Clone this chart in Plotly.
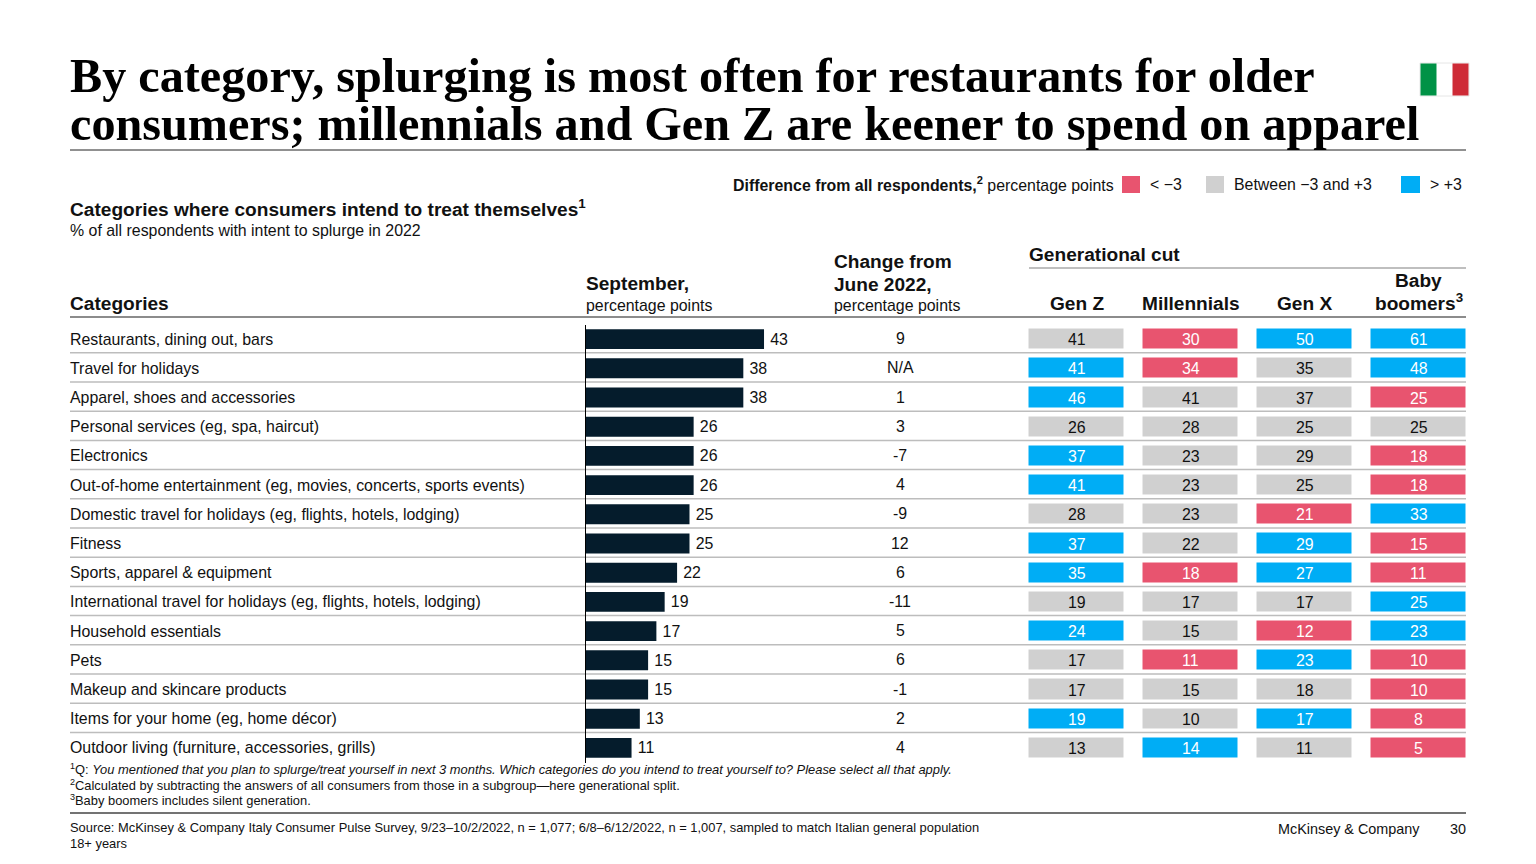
import plotly.graph_objects as go

W, H = 1536, 864

categories = [
    "Restaurants, dining out, bars",
    "Travel for holidays",
    "Apparel, shoes and accessories",
    "Personal services (eg, spa, haircut)",
    "Electronics",
    "Out-of-home entertainment (eg, movies, concerts, sports events)",
    "Domestic travel for holidays (eg, flights, hotels, lodging)",
    "Fitness",
    "Sports, apparel &amp; equipment",
    "International travel for holidays (eg, flights, hotels, lodging)",
    "Household essentials",
    "Pets",
    "Makeup and skincare products",
    "Items for your home (eg, home décor)",
    "Outdoor living (furniture, accessories, grills)",
]
september = [43, 38, 38, 26, 26, 26, 25, 25, 22, 19, 17, 15, 15, 13, 11]
change = ["9", "N/A", "1", "3", "-7", "4", "-9", "12", "6", "-11", "5", "6", "-1", "2", "4"]

generations = ["Gen Z", "Millennials", "Gen X", "Baby boomers"]
gen_z = [41, 41, 46, 26, 37, 41, 28, 37, 35, 19, 24, 17, 17, 19, 13]
millennials = [30, 34, 41, 28, 23, 23, 23, 22, 18, 17, 15, 11, 15, 10, 14]
gen_x = [50, 35, 37, 25, 29, 25, 21, 29, 27, 17, 12, 23, 18, 17, 11]
boomers = [61, 48, 25, 25, 18, 18, 33, 15, 11, 25, 23, 10, 10, 8, 5]

# -1 below, 0 between, 1 above, as coloured in the picture
gen_z_class = [0, 1, 1, 0, 1, 1, 0, 1, 1, 0, 1, 0, 0, 1, 0]
millennials_class = [-1, -1, 0, 0, 0, 0, 0, 0, -1, 0, 0, -1, 0, 0, 1]
gen_x_class = [1, 0, 0, 0, 0, 0, -1, 1, 1, 0, -1, 1, 0, 1, 0]
boomers_class = [1, 1, -1, 0, -1, -1, 1, -1, -1, 1, 1, -1, -1, -1, -1]

NAVY = "#051C2C"
PINK = "#E8546F"
GRAY = "#D0D0D0"
BLUE = "#00ADF5"
BODY = "Liberation Sans"


def px(x):
    return x / W


def py(y):
    return 1 - y / H


fig = go.Figure()

# September bars
fig.add_trace(go.Bar(
    x=september, y=categories, orientation="h",
    marker=dict(color=NAVY, line=dict(width=0)),
    texttemplate="\u2009%{x}", textposition="outside", cliponaxis=False,
    textfont=dict(family=BODY, size=15.9, color="#111111"),
    xaxis="x", yaxis="y", hoverinfo="skip",
))

# Generational cut
columns = [gen_z, millennials, gen_x, boomers]
classes = [gen_z_class, millennials_class, gen_x_class, boomers_class]
fig.add_trace(go.Heatmap(
    x=generations, y=categories,
    z=[[classes[c][r] for c in range(4)] for r in range(len(categories))],
    zmin=-1, zmax=1,
    colorscale=[[0, PINK], [0.33, PINK], [0.33, GRAY], [0.67, GRAY], [0.67, BLUE], [1, BLUE]],
    showscale=False, xgap=19, ygap=9, xaxis="x3", yaxis="y", hoverinfo="skip",
))


def note(text, x, y, size=15.9, xanchor="left", yanchor="middle", xref="paper", yref="paper",
         family=BODY, color="#111111", yshift=0):
    fig.add_annotation(
        text=text, x=x, y=y, xref=xref, yref=yref, showarrow=False,
        xanchor=xanchor, yanchor=yanchor, align=xanchor, yshift=yshift,
        font=dict(family=family, size=size, color=color),
        borderpad=0, borderwidth=0,
    )


for name, vals, cls in zip(generations, columns, classes):
    for cat, val, k in zip(categories, vals, cls):
        note(str(val), name, cat, xanchor="center", xref="x3", yref="y", yshift=-0.5,
             color="#111111" if k == 0 else "#FFFFFF")

# Change from June
for cat, val in zip(categories, change):
    note(val, "Change", cat, xanchor="center", xref="x2", yref="y", yshift=0.5)

for cat in categories:
    note(cat, px(70), cat, yref="y")

# title
SERIF = "Liberation Serif"
note("<b>By category, splurging is most often for restaurants for older</b>", px(70), py(75), size=48.2, family=SERIF, color="#000000")
note("<b>consumers; millennials and Gen Z are keener to spend on apparel</b>", px(70), py(124), size=48.2, family=SERIF, color="#000000")

# legend
note("<b>Difference from all respondents,<sup>2</sup></b> percentage points", px(1114), py(184), xanchor="right")
note("&lt; −3", px(1150), py(185))
note("Between −3 and +3", px(1234), py(185))
note("&gt; +3", px(1430), py(185))

# headings
note("<b>Categories where consumers intend to treat themselves<sup>1</sup></b>", px(70), py(208), size=19.1)
note("% of all respondents with intent to splurge in 2022", px(70), py(230))
note("<b>Categories</b>", px(70), py(303), size=19.1)
note("<b>September,</b>", px(586), py(283), size=19.1)
note("percentage points", px(586), py(305))
note("<b>Change from</b>", px(834), py(262), size=19.1)
note("<b>June 2022,</b>", px(834), py(284), size=19.1)
note("percentage points", px(834), py(305))
note("<b>Generational cut</b>", px(1029), py(255), size=19.1)
note("<b>Gen Z</b>", "Gen Z", py(303), size=19.1, xanchor="center", xref="x3")
note("<b>Millennials</b>", "Millennials", py(303), size=19.1, xanchor="center", xref="x3")
note("<b>Gen X</b>", "Gen X", py(303), size=19.1, xanchor="center", xref="x3")
note("<b>Baby</b>", "Baby boomers", py(281), size=19.1, xanchor="center", xref="x3")
note("<b>boomers<sup>3</sup></b>", "Baby boomers", py(302), size=19.1, xanchor="center", xref="x3")

# footnotes
note("<sup>1</sup>Q: <i>You mentioned that you plan to splurge/treat yourself in next 3 months. Which categories do you intend to treat yourself to? Please select all that apply.</i>", px(70), py(769), size=12.9)
note("<sup>2</sup>Calculated by subtracting the answers of all consumers from those in a subgroup—here generational split.", px(70), py(785), size=12.9)
note("<sup>3</sup>Baby boomers includes silent generation.", px(70), py(800), size=12.9)
note("Source: McKinsey &amp; Company Italy Consumer Pulse Survey, 9/23–10/2/2022, n = 1,077; 6/8–6/12/2022, n = 1,007, sampled to match Italian general population", px(70), py(827), size=12.9)
note("18+ years", px(70), py(843), size=12.9)
note("McKinsey &amp; Company", px(1420), py(829), size=14.4, xanchor="right")
note("30", px(1466), py(829), size=14.4, xanchor="right")

shapes = []


def hline(y, x0, x1, color, width):
    shapes.append(dict(type="line", xref="paper", yref="paper", x0=px(x0), x1=px(x1),
                       y0=py(y), y1=py(y), line=dict(color=color, width=width), layer="below"))


def box(x0, x1, y0, y1, color, line=None):
    shapes.append(dict(type="rect", xref="paper", yref="paper", x0=px(x0), x1=px(x1),
                       y0=py(y0), y1=py(y1), fillcolor=color,
                       line=dict(color=line or color, width=1 if line else 0)))


hline(150, 70, 1466, "#222222", 1)
hline(268, 1029, 1466, "#AAAAAA", 1.5)
hline(317, 70, 1466, "#8C8C8C", 2)
hline(813, 70, 1466, "#444444", 1.5)
for i in range(len(categories) - 1):
    shapes.append(dict(type="line", xref="paper", yref="y", x0=px(70), x1=px(1466),
                       y0=i + 0.47, y1=i + 0.47, line=dict(color="#BDBDBD", width=1.5), layer="below"))

# legend swatches
box(1122, 1140, 176, 193, PINK)
box(1206, 1224, 176, 193, GRAY)
box(1401, 1420, 176, 193, BLUE)

# flag
box(1420, 1469, 63, 96, "#FFFFFF", "#E6E6E6")
box(1420.5, 1436.5, 63.5, 95.5, "#009246")
box(1452.5, 1468.5, 63.5, 95.5, "#CE2B37")

fig.update_layout(
    width=W, height=H, margin=dict(l=0, r=0, t=0, b=0),
    paper_bgcolor="white", plot_bgcolor="rgba(0,0,0,0)",
    showlegend=False, bargap=0.32, shapes=shapes,
    xaxis=dict(domain=[px(586), px(1000)], range=[0, 100], visible=False, anchor="y"),
    xaxis2=dict(domain=[px(834), px(966)], visible=False, anchor="y", type="category",
                categoryorder="array", categoryarray=["Change"]),
    xaxis3=dict(domain=[px(1019.5), px(1475.5)], visible=False, anchor="y",
                categoryorder="array", categoryarray=generations),
    yaxis=dict(domain=[py(762.5), py(324.5)], range=[14.5, -0.5], categoryorder="array",
               categoryarray=categories, showticklabels=False, ticks="", showgrid=False,
               zeroline=False, showline=True, linecolor="#000000", linewidth=1, anchor="x"),
)

fig.write_html("out.html", config=dict(displayModeBar=False),
               post_script="document.body.style.margin='0';")
